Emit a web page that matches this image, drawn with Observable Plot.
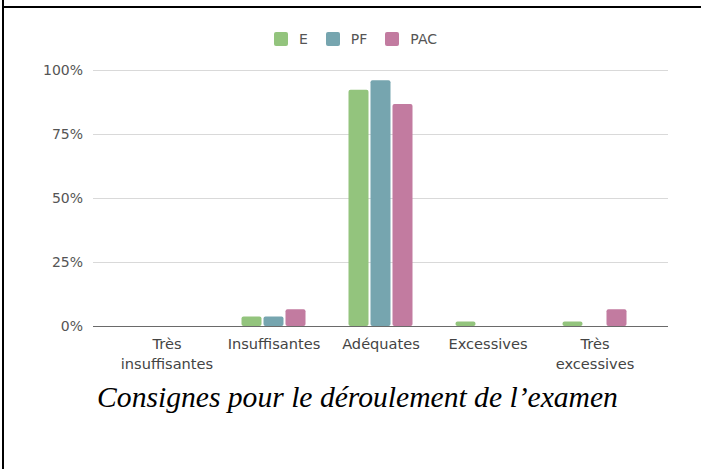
<!DOCTYPE html>
<html>
<head>
<meta charset="utf-8">
<script src="https://cdn.jsdelivr.net/npm/d3@7"></script>
<script src="https://cdn.jsdelivr.net/npm/@observablehq/plot@0.6"></script>
<style>
  html, body { margin: 0; padding: 0; background: #fff; }
  #wrap { position: relative; width: 701px; height: 469px; overflow: hidden; background: #fff; }
  #frame { position: absolute; left: 2px; top: 6px; width: 720px; height: 480px; border-top: 2px solid #000; border-left: 2px solid #000; }
  #frameTop { position: absolute; left: 2px; top: 0; width: 2px; height: 8px; background: #000; }
  #chart { position: absolute; left: 0; top: 0; }
  #legend { position: absolute; left: 274px; top: 31px; display: flex; align-items: center; font-family: "DejaVu Sans", sans-serif; font-size: 14px; color: #555; }
  #legend .item { display: flex; align-items: center; margin-right: 18px; }
  #legend .sw { width: 14px; height: 14px; border-radius: 2px; margin-right: 11px; }
  #caption { position: absolute; left: 357.5px; top: 382px; transform: translateX(-50%); white-space: nowrap; font-family: "Liberation Serif", "Times New Roman", serif; font-style: italic; font-size: 29.6px; line-height: 30px; color: #000; }
</style>
</head>
<body>
<div id="wrap">
  <div id="frameTop"></div>
  <div id="frame"></div>
  <div id="chart"></div>
  <div id="legend"></div>
  <div id="caption"></div>
</div>
<script>
const categories = ["Très insuffisantes", "Insuffisantes", "Adéquates", "Excessives", "Très excessives"];
const tickLabels = ["Très\ninsuffisantes", "Insuffisantes", "Adéquates", "Excessives", "Très\nexcessives"];
const series = ["E", "PF", "PAC"];
const valuesE = [0, 3.7, 92.3, 1.8, 1.8];
const valuesPF = [0, 3.7, 96.0, 0, 0];
const valuesPAC = [0, 6.5, 86.7, 0, 6.5];
const colors = ["#93c47d", "#76a5af", "#c27ba0"];
const yTicks = [0, 25, 50, 75, 100];
const captionText = "Consignes pour le déroulement de l’examen";

const seriesValues = [valuesE, valuesPF, valuesPAC];
const rows = [];
categories.forEach((c, i) => {
  series.forEach((s, j) => rows.push({category: c, series: s, value: seriesValues[j][i]}));
});

const fmtX = d => tickLabels[categories.indexOf(d)];
const hasAxisMarks = typeof Plot.axisFx === "function";

const marks = [
  Plot.ruleY(yTicks.filter(d => d > 0), {stroke: "#d9d9d9", strokeWidth: 1, insetLeft: -20, insetRight: -20}),
  Plot.barY(rows, {x: "series", y: "value", fill: "series", rx: 2}),
  Plot.ruleY([0], {stroke: "#6a6a6a", strokeWidth: 1, insetLeft: -20, insetRight: -20})
];
if (hasAxisMarks) {
  marks.push(Plot.axisFx({anchor: "bottom", tickSize: 0, tickPadding: 8, lineHeight: 1.4, fontSize: 14.6, tickFormat: fmtX, label: null, fill: "#444"}));
}

const chart = Plot.plot({
  width: 701,
  height: 380,
  marginLeft: 111.5,
  marginRight: 51,
  marginTop: 70,
  marginBottom: 54,
  style: {fontFamily: "'DejaVu Sans', sans-serif", fontSize: "14px", color: "#555", background: "transparent"},
  facet: {data: rows, x: "category"},
  fx: hasAxisMarks
    ? {domain: categories, padding: 0, axis: null}
    : {domain: categories, padding: 0, axis: "bottom", tickSize: 0, tickPadding: 8, tickFormat: fmtX, label: null},
  x: {domain: series, padding: 0.087, insetLeft: 18.35, insetRight: 18.35, axis: null},
  y: {domain: [0, 100], ticks: yTicks, tickFormat: d => d + "%", tickSize: 0, tickPadding: 30.5, label: null},
  color: {domain: series, range: colors},
  marks
});
document.getElementById("chart").appendChild(chart);

const legend = document.getElementById("legend");
series.forEach((s, i) => {
  const item = document.createElement("div");
  item.className = "item";
  const sw = document.createElement("div");
  sw.className = "sw";
  sw.style.background = colors[i];
  const t = document.createElement("span");
  t.textContent = s;
  item.appendChild(sw);
  item.appendChild(t);
  legend.appendChild(item);
});
document.getElementById("caption").textContent = captionText;
</script>
</body>
</html>
